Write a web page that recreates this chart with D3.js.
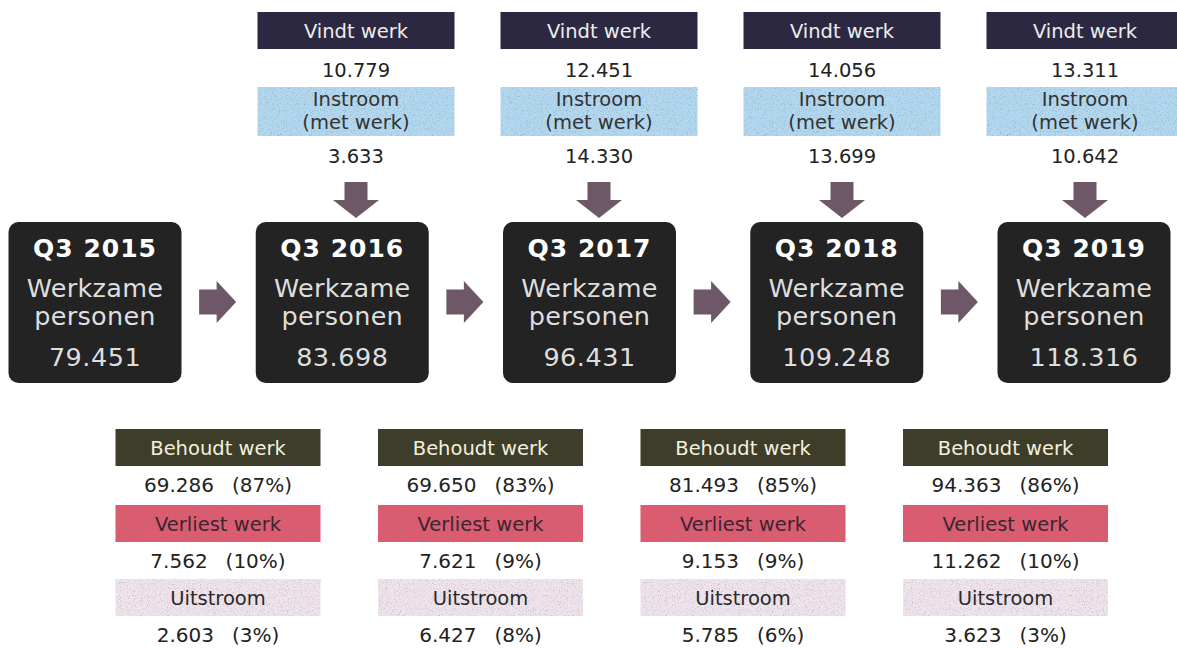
<!DOCTYPE html>
<html>
<head>
<meta charset="utf-8">
<script src="https://cdn.jsdelivr.net/npm/d3@7"></script>
<style>
  body { margin: 0; background: #fff; }
  svg { display: block; font-family: "DejaVu Sans", Verdana, sans-serif; }
  text { white-space: pre; }
</style>
</head>
<body>
<svg width="1177" height="648"></svg>
<script>
const years = ["Q3 2015", "Q3 2016", "Q3 2017", "Q3 2018", "Q3 2019"];
const werkzame = [79451, 83698, 96431, 109248, 118316];

// inflow per year (from 2016 on)
const vindtWerk = [10779, 12451, 14056, 13311];
const instroom = [3633, 14330, 13699, 10642];

// what happens to last year's people
const transitions = ["2015-2016", "2016-2017", "2017-2018", "2018-2019"];
const behoudt = [69286, 69650, 81493, 94363];
const behoudtPct = [87, 83, 85, 86];
const verliest = [7562, 7621, 9153, 11262];
const verliestPct = [10, 9, 9, 10];
const uitstroom = [2603, 6427, 5785, 3623];
const uitstroomPct = [3, 8, 6, 3];

const nl = d3.formatLocale({ decimal: ",", thousands: ".", grouping: [3], currency: ["€", ""] });
const fmt = nl.format(",d");

const svg = d3.select("svg");

// grainy look of the scanned coloured boxes
const speckle = svg.append("defs").append("filter")
  .attr("id", "speckle")
  .attr("x", 0).attr("y", 0).attr("width", 1).attr("height", 1);
speckle.append("feTurbulence")
  .attr("type", "fractalNoise").attr("baseFrequency", 0.85)
  .attr("numOctaves", 2).attr("seed", 7).attr("result", "noise");
speckle.append("feColorMatrix")
  .attr("in", "noise").attr("type", "matrix")
  .attr("values", "0 0 0 0 0.15  0 0 0 0 0.15  0 0 0 0 0.2  1.6 0 0 0 -0.85")
  .attr("result", "specks");
speckle.append("feComposite")
  .attr("in", "specks").attr("in2", "SourceGraphic")
  .attr("operator", "in").attr("result", "clipped");
const merge = speckle.append("feMerge");
merge.append("feMergeNode").attr("in", "SourceGraphic");
merge.append("feMergeNode").attr("in", "clipped");

const xBox = d3.scalePoint().domain(years).range([95, 1084]);
const xTop = d3.scalePoint().domain(years.slice(1)).range([356, 1085]);
const xBottom = d3.scalePoint().domain(transitions).range([218, 1005.5]);

const arrowColor = "#6e5868";

// ---- top: vindt werk / instroom ----
const topW = 197;
const inflow = svg.append("g").selectAll("g")
  .data(years.slice(1).map((y, i) => ({ year: y, vindt: vindtWerk[i], instroom: instroom[i] })))
  .join("g")
  .attr("transform", d => `translate(${xTop(d.year)},0)`);

inflow.append("rect")
  .attr("x", -topW / 2).attr("y", 12)
  .attr("width", topW).attr("height", 37)
  .attr("fill", "#2c2842");
inflow.append("text")
  .attr("y", 38).attr("text-anchor", "middle")
  .attr("font-size", 19.5).attr("fill", "#ececec")
  .text("Vindt werk");
inflow.append("text")
  .attr("y", 77).attr("text-anchor", "middle")
  .attr("font-size", 19.5).attr("fill", "#222")
  .text(d => fmt(d.vindt));

inflow.append("rect")
  .attr("x", -topW / 2).attr("y", 87)
  .attr("width", topW).attr("height", 49)
  .attr("fill", "#b2d8f0")
  .attr("filter", "url(#speckle)");
inflow.append("text")
  .attr("y", 106).attr("text-anchor", "middle")
  .attr("font-size", 19.5).attr("fill", "#333")
  .text("Instroom");
inflow.append("text")
  .attr("y", 129).attr("text-anchor", "middle")
  .attr("font-size", 19.5).attr("fill", "#333")
  .text("(met werk)");
inflow.append("text")
  .attr("y", 163).attr("text-anchor", "middle")
  .attr("font-size", 19.5).attr("fill", "#222")
  .text(d => fmt(d.instroom));

// down arrow
inflow.append("path")
  .attr("d", () => {
    const p = d3.path();
    p.moveTo(-11.5, 182); p.lineTo(11.5, 182); p.lineTo(11.5, 200);
    p.lineTo(23, 200); p.lineTo(0, 218); p.lineTo(-23, 200);
    p.lineTo(-11.5, 200); p.closePath();
    return p.toString();
  })
  .attr("fill", arrowColor);

// ---- middle: black boxes ----
const boxW = 173;
const box = svg.append("g").selectAll("g")
  .data(years.map((y, i) => ({ year: y, value: werkzame[i] })))
  .join("g")
  .attr("transform", d => `translate(${xBox(d.year)},0)`);

box.append("rect")
  .attr("x", -boxW / 2).attr("y", 222)
  .attr("width", boxW).attr("height", 161)
  .attr("rx", 10)
  .attr("fill", "#232323");
box.append("text")
  .attr("y", 257).attr("text-anchor", "middle")
  .attr("font-size", 25).attr("font-weight", "bold")
  .attr("letter-spacing", 1).attr("fill", "#fff")
  .text(d => d.year);
box.append("text")
  .attr("y", 297).attr("text-anchor", "middle")
  .attr("font-size", 25.5).attr("fill", "#dedede")
  .attr("letter-spacing", 0.3)
  .text("Werkzame");
box.append("text")
  .attr("y", 325).attr("text-anchor", "middle")
  .attr("font-size", 25.5).attr("fill", "#dedede")
  .attr("letter-spacing", 0.3)
  .text("personen");
box.append("text")
  .attr("y", 366).attr("text-anchor", "middle")
  .attr("font-size", 25.5).attr("fill", "#dedede")
  .attr("letter-spacing", 0.5)
  .text(d => fmt(d.value));

// right arrows between boxes
svg.append("g").selectAll("path")
  .data(d3.pairs(years))
  .join("path")
  .attr("transform", d => `translate(${(xBox(d[0]) + xBox(d[1])) / 2 - 1},302)`)
  .attr("d", () => {
    const p = d3.path();
    p.moveTo(-18.5, -12.5); p.lineTo(-1, -12.5); p.lineTo(-1, -21);
    p.lineTo(18.5, 0); p.lineTo(-1, 21); p.lineTo(-1, 12.5);
    p.lineTo(-18.5, 12.5); p.closePath();
    return p.toString();
  })
  .attr("fill", arrowColor);

// ---- bottom: behoudt / verliest / uitstroom ----
const botW = 205;
const rows = [
  { label: "Behoudt werk", values: behoudt, pct: behoudtPct, fill: "#3e3d2a", color: "#f2f0dc", y: 429, grain: false },
  { label: "Verliest werk", values: verliest, pct: verliestPct, fill: "#de5b70", color: "#3a2630", y: 505, grain: true },
  { label: "Uitstroom", values: uitstroom, pct: uitstroomPct, fill: "#efe4ec", color: "#2a2a2a", y: 579, grain: true }
];

const bottom = svg.append("g").selectAll("g")
  .data(transitions)
  .join("g")
  .attr("transform", d => `translate(${xBottom(d)},0)`);

rows.forEach(r => {
  bottom.append("rect")
    .attr("x", -botW / 2).attr("y", r.y)
    .attr("width", botW).attr("height", 37)
    .attr("fill", r.fill)
    .attr("filter", r.grain ? "url(#speckle)" : null);
  bottom.append("text")
    .attr("y", r.y + 26).attr("text-anchor", "middle")
    .attr("font-size", 19.5).attr("fill", r.color)
    .text(r.label);
  const t = bottom.append("text")
    .attr("y", r.y + 63).attr("text-anchor", "middle")
    .attr("font-size", 20).attr("fill", "#222");
  t.append("tspan").text((d, i) => fmt(r.values[i]));
  t.append("tspan").attr("dx", 18).text((d, i) => `(${r.pct[i]}%)`);
});
</script>
</body>
</html>
